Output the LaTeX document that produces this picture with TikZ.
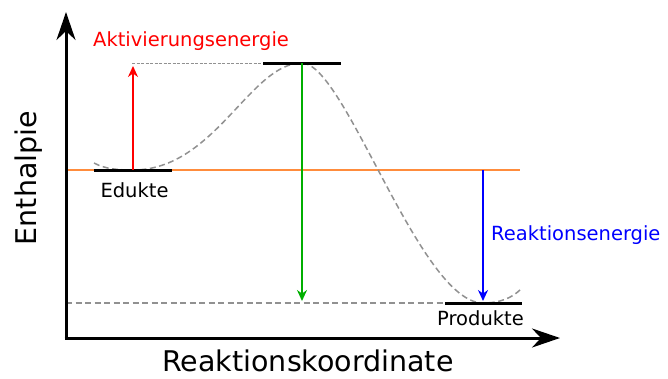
\documentclass[tikz,border=0pt]{standalone}
\usepackage{fontspec}
\setmainfont{DejaVu Sans}
\usetikzlibrary{arrows.meta}
\definecolor{curvegray}{RGB}{145,145,145}
\definecolor{orangeline}{RGB}{255,140,60}
\definecolor{greenarrow}{RGB}{0,175,0}
\begin{document}
\begin{tikzpicture}[x=1pt,y=-1pt,
  axisline/.style={line width=3pt,-{Stealth[length=28pt,width=19pt,inset=9pt]}},
  levelbar/.style={line width=3pt},
  guideline/.style={curvegray,line width=1.5pt,dash pattern=on 6pt off 3.5pt},
  dotline/.style={curvegray,line width=1pt,dash pattern=on 3pt off 1.5pt},
  energyarrow/.style={line width=2pt,-{Stealth[length=11pt,width=10pt]}},
  biglabel/.style={font=\fontsize{28.5}{34}\selectfont},
  smalllabel/.style={font=\fontsize{19.5}{23}\selectfont}]
\useasboundingbox (0,0) rectangle (668,378);
% coordinates
\coordinate (origin) at (66,338);
\coordinate (ytip) at (66,12);
\coordinate (xtip) at (560,338);
\coordinate (eduL) at (94,170);
\coordinate (eduR) at (172,170);
\coordinate (eduM) at (133,170);
\coordinate (tsL) at (263,63);
\coordinate (tsR) at (341,63);
\coordinate (tsM) at (302,63);
\coordinate (proL) at (445,303);
\coordinate (proR) at (522,303);
\coordinate (proM) at (483,303);
\coordinate (orangeL) at (66,170);
\coordinate (orangeR) at (520,170);
\coordinate (dashL) at (66,303);
\coordinate (dotL) at (132,63);
\coordinate (curveS) at (94,163);
\coordinate (curveE) at (521,289);
\coordinate (blueS) at (483,170);
\coordinate (redE) at (133,66);
\coordinate (greenE) at (302,301);
\coordinate (blueE) at (483,301);
% guide lines
\draw[orangeline,line width=1.3pt] (orangeL) -- (orangeR);
\draw[guideline] (dashL) -- (proL);
\draw[dotline] (dotL) -- (tsL);
% curve
\draw[guideline] (curveS) .. controls (105,169) and (118,170) .. (eduM)
  .. controls (215,170) and (250,63) .. (tsM)
  .. controls (345,63) and (420,303) .. (proM)
  .. controls (500,303) and (512,298) .. (curveE);
% level bars
\draw[levelbar] (eduL) -- (eduR);
\draw[levelbar] (tsL) -- (tsR);
\draw[levelbar] (proL) -- (proR);
% energy arrows
\draw[energyarrow,red] (eduM) -- (redE);
\draw[energyarrow,greenarrow] (tsM) -- (greenE);
\draw[energyarrow,blue] (blueS) -- (blueE);
% axes
\draw[axisline] ([yshift=1.5pt]origin) -- (ytip);
\draw[axisline] ([xshift=-1.5pt]origin) -- (xtip);
% labels
\node[smalllabel,red,anchor=base west,inner sep=0pt] (aktlabel) at (93,46) {Aktivierungsenergie};
\node[smalllabel,anchor=base,inner sep=0pt] (edulabel) at (134.5,197) {Edukte};
\node[smalllabel,anchor=base,inner sep=0pt] (prolabel) at (480.5,325) {Produkte};
\node[smalllabel,blue,anchor=base west,inner sep=0pt] (reaklabel) at (491,240) {Reaktionsenergie};
\node[biglabel,anchor=base,rotate=90,inner sep=0pt] (ylabel) at (36,178) {Enthalpie};
\node[biglabel,anchor=base,inner sep=0pt] (xlabel) at (308,371) {Reaktionskoordinate};
\end{tikzpicture}
\end{document}
